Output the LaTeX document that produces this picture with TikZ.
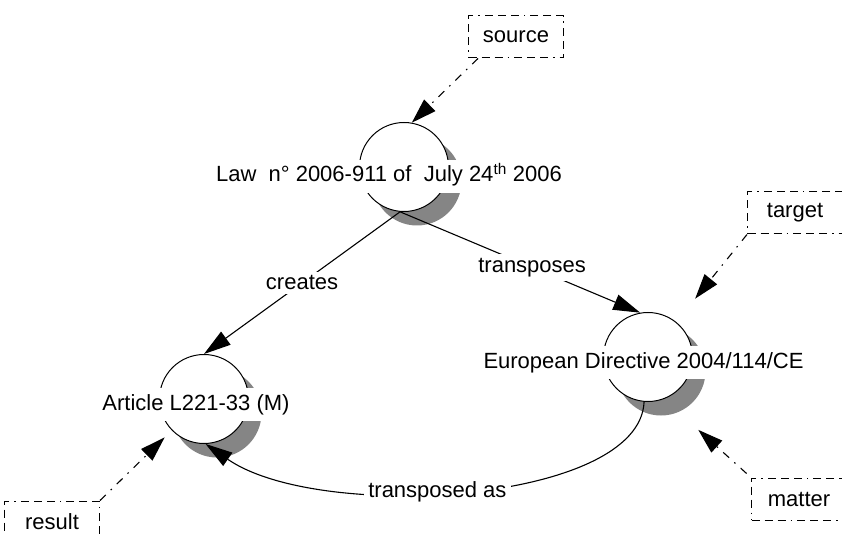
\documentclass[tikz,border=0pt]{standalone}
\usepackage{fontspec}
\setmainfont{Liberation Sans}
\usetikzlibrary{%
  arrows.meta,
  positioning,
  shadows
}
\tikzset{
concept/.style = {circle, draw, fill=white, minimum size=89pt, inner sep=0pt,
                  line width=1pt,
                  drop shadow={shadow xshift=13pt, shadow yshift=-14pt,
                               fill=black!48, opacity=1}},
ctext/.style   = {fill=white, anchor=base, inner xsep=3pt, inner ysep=6pt,
                  text height=16pt, text depth=5pt,
                  font=\fontsize{22}{26}\selectfont},
lbl/.style     = {fill=white, inner sep=4pt, font=\fontsize{22}{26}\selectfont},
tag/.style     = {draw, line width=1pt, minimum width=95pt, minimum height=42pt,
                  font=\fontsize{22}{26}\selectfont,
                  dash pattern=on 8pt off 5pt on 8pt off 5pt on 8pt off 5pt on 1.5pt off 5pt},
rel/.style     = {line width=1.1pt, -{Triangle[length=27pt,width=16pt]}},
role/.style    = {line width=1.1pt, dash pattern=on 8pt off 7pt on 1.5pt off 7pt,
                  -{Triangle[length=25pt,width=16pt]}}
}

\begin{document}
\begin{tikzpicture}[x=1pt,y=1pt]
  \fill[white] (0,0) rectangle (842,533);
  \useasboundingbox (0,0) rectangle (842,533);

  \foreach \n/\x/\y in {law/404/366, article/204/134, directive/648/176}{
    \node[concept] (\n) at (\x,\y) {};
  }
  \node[ctext] (lawtxt) at (389,351) {Law\ \ n° 2006-911 of\ \ July 24\textsuperscript{th} 2006};
  \node[ctext] (articletxt) at (196,123) {Article L221-33 (M)};
  \node[ctext] (directivetxt) at (643.5,165) {European Directive 2004/114/CE};

  \foreach \n/\x/\y in {source/516/496, target/795/320, matter/799/34, result/52/11}{
    \node[tag] (\n) at (\x,\y) {\n};
  }

  \draw[rel] (law.265) -- node[lbl] {creates} (article.north);
  \draw[rel] (law.265) -- node[lbl, pos=.55] {transposes} (directive.100);
  \draw[rel] (directive.-95) .. controls (640,30) and (320,10) .. (article.-88)
     node[lbl, pos=.55] {transposed as};

  \draw[role] ([xshift=10pt]source.south west) -- (law.80);
  \draw[role, shorten >=30pt] (target.south west) -- (directive);
  \draw[role, shorten <=6pt, shorten >=46pt] (matter.north west) -- (directive.-69);
  \draw[role, shorten >=10pt] (result.north east) -- (article);

\end{tikzpicture}
\end{document}
